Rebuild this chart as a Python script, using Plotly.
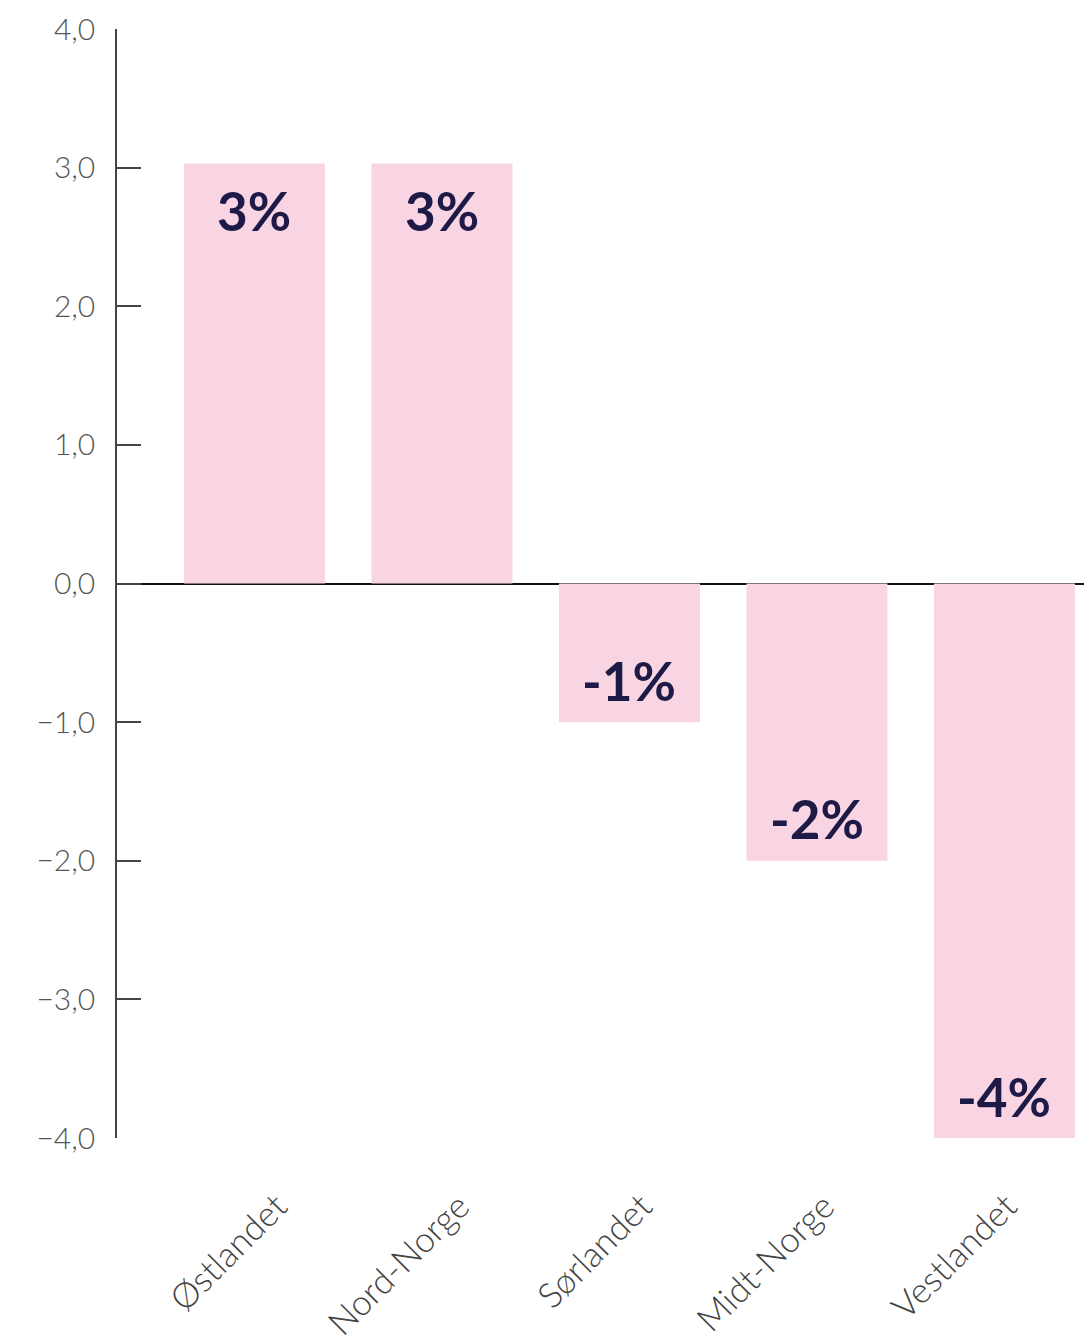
import plotly.graph_objects as go

regions = ["Østlandet", "Nord-Norge", "Sørlandet", "Midt-Norge", "Vestlandet"]
values = [3.03, 3.03, -1.0, -2.0, -4.0]
labels = ["3%", "3%", "-1%", "-2%", "-4%"]
y_ticks = [-4, -3, -2, -1, 0, 1, 2, 3, 4]

PINK = "#F9D5E3"
NAVY = "#1E1A47"

fig = go.Figure()
fig.add_trace(go.Bar(
    x=list(range(len(regions))), y=values,
    marker=dict(color=PINK, line=dict(width=0)),
    hoverinfo="skip",
))

for i, (v, t) in enumerate(zip(values, labels)):
    fig.add_annotation(
        x=i, y=v, text=t, showarrow=False,
        yanchor="middle", yshift=(-47 if v > 0 else 42),
        font=dict(family="Lato", size=53, color=NAVY, weight=700),
    )

fig.update_layout(
    width=1084, height=1335,
    margin=dict(l=109, r=0, t=21, b=205),
    plot_bgcolor="white", paper_bgcolor="white",
    bargap=0.248, showlegend=False,
    separators=",.",
)
fig.update_xaxes(
    range=[-0.733, 4.467], automargin=False,
    tickmode="array", tickvals=[0.12 + 0.973 * i for i in range(len(regions))], ticktext=regions,
    tickangle=-45, showline=False, ticks="", showgrid=False, zeroline=False,
    tickfont=dict(family="Lato", size=35, color="#444", weight=300),
    ticklabelstandoff=40,
)
fig.update_yaxes(
    range=[-4, 4], automargin=False, tickmode="array", tickvals=y_ticks,
    tickformat=".1f", showgrid=False,
    showline=True, linecolor="#444", linewidth=1.5,
    ticks="inside", ticklen=24, tickcolor="#444", tickwidth=1.5,
    zeroline=True, zerolinecolor="#111", zerolinewidth=1.5,
    tickfont=dict(family="Lato", size=30, color="#555", weight=300),
    ticklabelstandoff=14,
)

fig.write_html("out.html")
